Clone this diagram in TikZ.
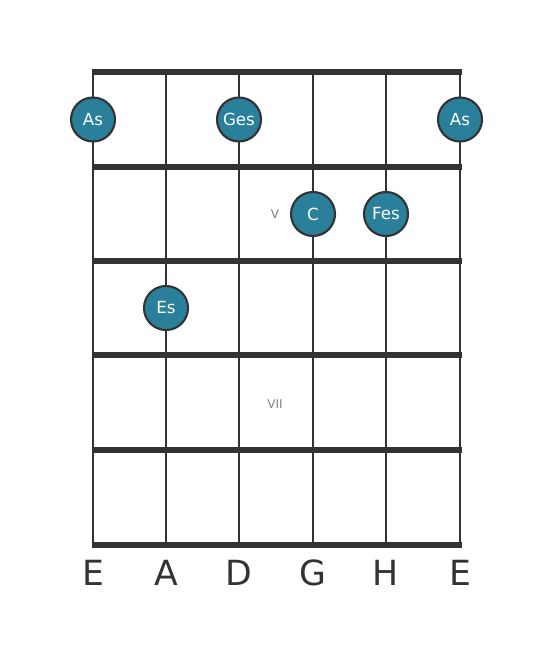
\documentclass[tikz,border=0pt]{standalone}
\usepackage{fontspec}
\setmainfont{DejaVu Sans}
\definecolor{notefill}{RGB}{42,127,155}
\definecolor{boardline}{RGB}{51,51,51}
\tikzset{
  note/.style={circle,draw=boardline,line width=1.6pt,fill=notefill,minimum size=33pt,inner sep=0pt,text=white,font=\fontsize{12.5}{14}\selectfont},
  fretnum/.style={text=gray,font=\fontsize{9}{11}\selectfont},
  stringname/.style={text=boardline,font=\fontsize{26}{30}\selectfont}
}

\begin{document}
\begin{tikzpicture}[x=0.75pt,y=0.75pt,yscale=-1,xscale=1]
\useasboundingbox (0,0) rectangle (553,656);
% strings
\foreach \sx in {93,166,239,313,386,460}
  \draw [boardline,line width=2pt] (\sx,72) -- (\sx,545);
% frets
\foreach \fy in {72,167,261,355,450,545}
  \draw [boardline,line width=3.8pt] (91.5,\fy) -- (461.5,\fy);
% fret numbers
\node [fretnum] (fretV) at (275,214) {V};
\node [fretnum] (fretVII) at (275,404) {VII};
% notes
\node [note] (asLow) at (93,119.5) {As};
\node [note] (ges) at (239,119.5) {Ges};
\node [note] (asHigh) at (460,119.5) {As};
\node [note] (c) at (313,214) {C};
\node [note] (fes) at (386,214) {Fes};
\node [note] (es) at (166,308) {Es};
% string names
\node [stringname] (nameE) at (93,573) {E};
\node [stringname] (nameA) at (166,573) {A};
\node [stringname] (nameD) at (239,573) {D};
\node [stringname] (nameG) at (313,573) {G};
\node [stringname] (nameH) at (386,573) {H};
\node [stringname] (nameEhigh) at (460,573) {E};
\end{tikzpicture}
\end{document}
